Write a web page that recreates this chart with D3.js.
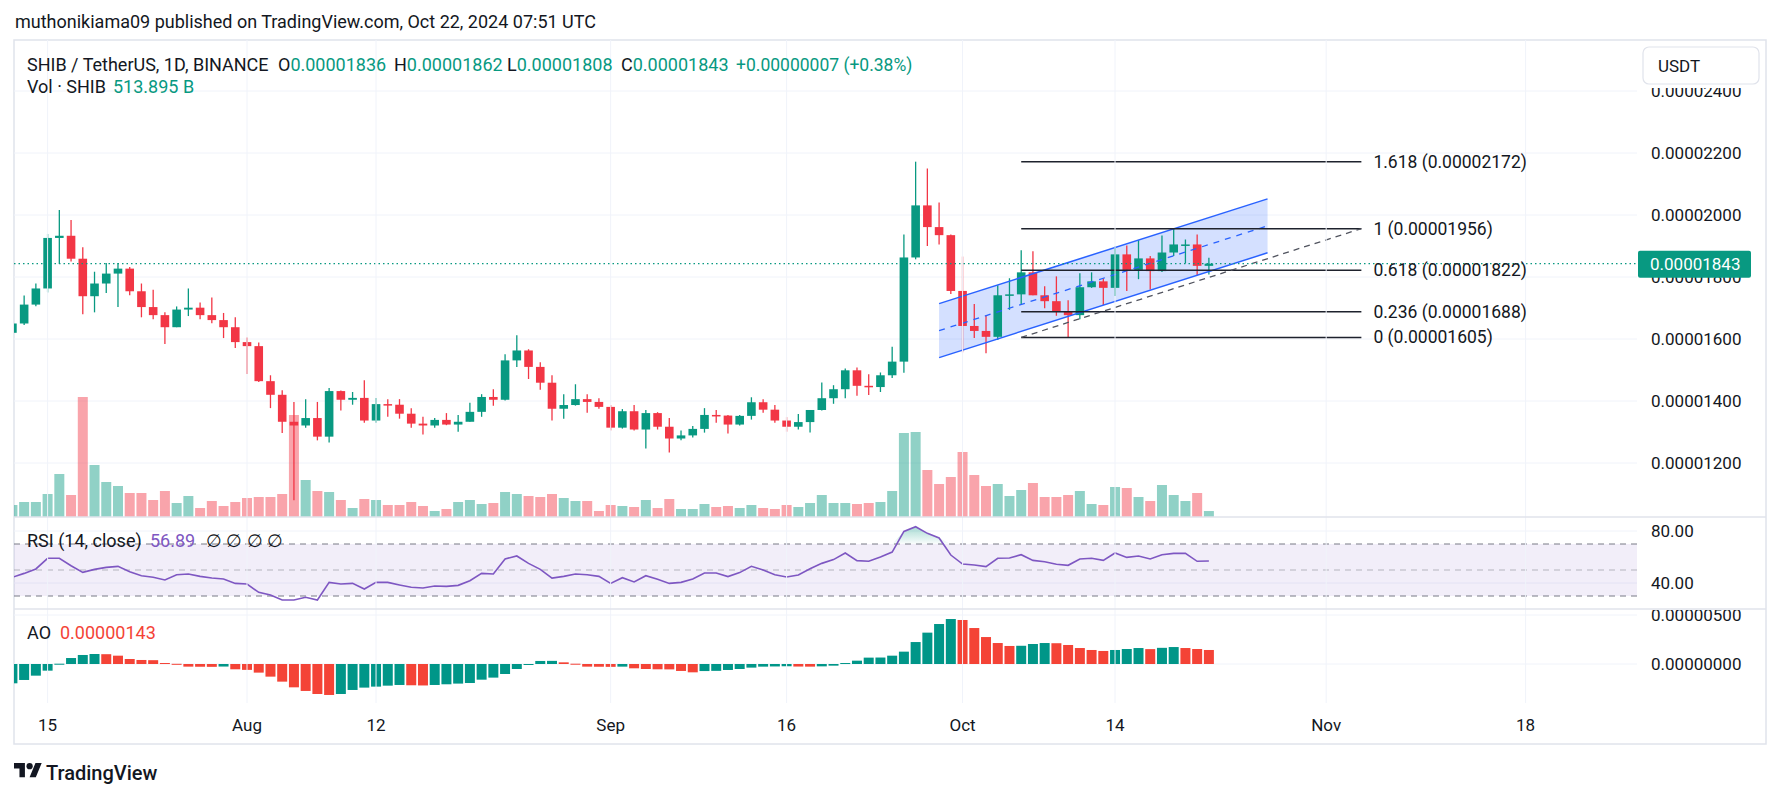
<!DOCTYPE html>
<html>
<head>
<meta charset="utf-8">
<script src="https://cdn.jsdelivr.net/npm/d3@7"></script>
<style>
  body { margin: 0; background: #fff; }
  svg text { font-family: Roboto, "Noto Sans", sans-serif; fill: #131722; }
</style>
</head>
<body>
<div id="viz"></div>
<script>
// prices are in units of 0.00000001 (1e-8)
var startDate = new Date(Date.UTC(2024, 6, 12));

var opens  = [1620,1650,1711,1763,1926,1933,1859,1738,1779,1811,1827,1754,1703,1677,1638,1695,1701,1677,1661,1638,
              1590,1577,1464,1420,1333,1321,1345,1285,1432,1404,1410,1337,1390,1388,1359,1327,1321,1339,1324,1333,
              1365,1413,1404,1531,1563,1510,1459,1375,1387,1406,1397,1381,1314,1367,1308,1361,1317,1279,1289,1310,
              1355,1353,1324,1352,1396,1372,1337,1317,1332,1371,1409,1438,1499,1449,1445,1483,1527,1863,2031,1961,
              1935,1755,1642,1626,1607,1741,1744,1815,1741,1722,1690,1677,1767,1786,1765,1873,1823,1860,1819,1879,
              1903,1905,1836];
var highs  = [1655,1740,1779,1939,2016,1984,1896,1817,1845,1845,1832,1779,1759,1686,1705,1763,1718,1734,1684,1670,
              1605,1589,1483,1435,1397,1406,1397,1442,1434,1429,1467,1410,1406,1406,1377,1349,1345,1361,1355,1394,
              1422,1438,1551,1612,1567,1525,1483,1422,1454,1422,1409,1387,1374,1387,1371,1364,1345,1305,1319,1377,
              1371,1355,1355,1412,1406,1387,1348,1358,1371,1460,1451,1505,1508,1486,1492,1575,1937,2172,2150,2040,
              1937,1866,1713,1677,1773,1796,1886,1883,1770,1802,1725,1812,1815,1795,1898,1902,1919,1868,1934,1956,
              1921,1937,1862];
var lows   = [1610,1645,1706,1750,1842,1850,1680,1686,1748,1703,1741,1670,1664,1584,1638,1674,1664,1651,1603,1571,
              1487,1461,1377,1297,1080,1314,1273,1266,1369,1388,1330,1330,1349,1343,1314,1292,1314,1322,1301,1333,
              1349,1385,1402,1510,1471,1436,1337,1343,1385,1362,1375,1305,1311,1305,1247,1308,1234,1273,1282,1298,
              1330,1295,1321,1340,1362,1330,1301,1308,1298,1369,1391,1409,1417,1419,1429,1474,1491,1857,1900,1905,
              1745,1557,1603,1554,1597,1694,1712,1741,1699,1675,1605,1664,1765,1710,1739,1755,1793,1760,1816,1868,
              1844,1806,1808];
var closes = [1650,1711,1763,1926,1933,1859,1738,1779,1811,1827,1754,1703,1677,1638,1695,1701,1677,1661,1638,1590,
              1577,1464,1420,1333,1321,1345,1285,1432,1404,1410,1337,1390,1388,1359,1327,1321,1339,1324,1333,1365,
              1413,1404,1531,1563,1510,1459,1375,1387,1406,1397,1381,1314,1367,1308,1361,1317,1279,1289,1310,1355,
              1353,1324,1352,1396,1372,1337,1317,1332,1371,1409,1438,1499,1449,1445,1483,1527,1863,2031,1961,1935,
              1755,1642,1626,1607,1741,1744,1815,1741,1722,1690,1677,1767,1786,1765,1873,1823,1860,1819,1879,1905,
              1905,1836,1843];
// volume in billions of SHIB
var volumes = [1032,1290,1290,1978,3698,1892,10320,4472,3010,2666,2064,2064,1462,2236,1204,1806,774,1376,946,1290,
               1634,1720,1720,1978,8772,3182,2236,2150,1462,774,1548,1462,1032,1032,1290,946,516,688,1290,1462,
               1118,1204,2150,1978,1806,1720,1978,1634,1376,1376,516,1032,946,860,1462,774,1548,688,688,1118,
               860,946,774,1032,774,688,1032,860,1204,1892,1204,1204,1118,1204,1290,2236,7224,7310,4042,2838,
               3440,5590,3612,2666,2838,1806,2322,2924,1720,1720,1892,2236,1118,1032,2580,2494,1720,1376,2752,1892,
               1376,2064,513.895];
var rsi = [44.4,47.4,50.8,59.0,59.0,53.3,48.2,50.5,52.0,52.8,48.7,45.6,44.4,42.3,46.4,46.9,45.1,43.8,43.1,39.7,
           39.2,32.8,30.8,26.9,26.9,29.0,26.9,40.5,39.2,39.7,35.4,40.5,40.5,38.5,36.7,36.2,37.7,37.4,38.2,41.8,
           47.4,46.9,58.5,60.8,55.1,50.5,43.8,45.1,46.9,46.4,45.1,39.7,44.1,40.8,45.6,42.8,39.7,40.5,43.1,47.7,
           47.7,44.9,48.0,52.8,50.0,46.4,44.6,46.2,51.0,55.1,58.0,63.1,57.2,56.7,60.0,63.8,79.7,83.3,78.2,74.6,
           61.5,54.6,53.8,52.6,59.0,59.2,61.8,57.4,56.4,54.4,53.6,58.5,59.0,57.4,63.1,59.7,60.8,58.5,61.8,62.8,
           62.8,56.7,56.89];
// awesome oscillator, units of 1e-8
var ao = [-197,-163,-119,-68,3,61,92,102,100,85,51,41,39,10,2,-27,-28,-29,-26,-54,
          -60,-88,-129,-180,-238,-275,-306,-316,-306,-265,-241,-231,-221,-214,-217,-219,-214,-207,-200,-194,
          -160,-139,-102,-51,-7,31,32,17,3,-27,-28,-29,-27,-44,-51,-54,-55,-71,-85,-72,
          -70,-61,-51,-37,-27,-25,-23,-26,-27,-24,-17,10,34,65,66,85,126,224,320,408,
          459,449,367,275,214,184,186,204,214,212,194,163,143,133,143,153,163,152,165,173,
          163,153,143];

var timeTickDates  = ["2024-07-15","2024-08-01","2024-08-12","2024-09-01","2024-09-16","2024-10-01","2024-10-14","2024-11-01","2024-11-18"];
var timeTickLabels = ["15","Aug","12","Sep","16","Oct","14","Nov","18"];
var priceTicks = [1200,1400,1600,1800,2000,2200,2400];
var rsiTicks = [40, 80];
var rsiLevels = [70, 50, 30];
var aoTicks = [0, 500];

var channelDates = ["2024-09-29","2024-10-27"];
var channelUpper = [1714, 2052];
var channelMid   = [1627, 1965];
var channelLower = [1540, 1878];

var fibDates  = ["2024-10-06","2024-11-04"];
var fibRatios = ["1.618","1","0.618","0.236","0"];
var fibValues = [2172, 1956, 1822, 1688, 1605];

var lastPrice = 1843;

// ---------------------------------------------------------------
var width = 1781, height = 798;
var plotL = 14, plotR = 1637, axisR = 1766;
var top0 = 40, mainBot = 517, rsiBot = 609, aoBot = 703, frameBot = 744;
var up = "#089981", down = "#F23645";
var grid = "#f0f3fa", border = "#e0e3eb";
var fs = "18px", fsAxis = "17px";
var parse = d3.utcParse("%Y-%m-%d");
var fmt8 = function(v) { return (v / 1e8).toFixed(8); };

var dates = closes.map(function(d, i) { return d3.utcDay.offset(startDate, i); });

var x = d3.scaleUtc()
    .domain([parse("2024-07-15"), parse("2024-11-18")])
    .range([47.6, 1525.6]);
var y = d3.scaleLinear().domain([1200, 2200]).range([463, 153]);
var yVol = d3.scaleLinear().domain([0, d3.max(volumes)]).range([mainBot, mainBot - 120]);
var yRsi = d3.scaleLinear().domain([40, 80]).range([583, 531]);
var yAo = d3.scaleLinear().domain([0, 500]).range([664, 615]);

var svg = d3.select("#viz").append("svg")
    .attr("width", width)
    .attr("height", height);

var defs = svg.append("defs");
function clip(id, y0, y1) {
  defs.append("clipPath").attr("id", id).append("rect")
      .attr("x", plotL).attr("y", y0).attr("width", plotR - plotL).attr("height", y1 - y0);
}
clip("cMain", top0, mainBot);
clip("cRsi", mainBot, rsiBot);
clip("cAo", rsiBot, aoBot);
defs.append("clipPath").attr("id", "cAxis").append("rect")
    .attr("x", plotR).attr("y", 88).attr("width", axisR - plotR).attr("height", mainBot - 88);
defs.append("clipPath").attr("id", "cAoAxis").append("rect")
    .attr("x", plotR).attr("y", rsiBot + 1).attr("width", axisR - plotR).attr("height", aoBot - rsiBot);

var grad = defs.append("linearGradient").attr("id", "obGrad")
    .attr("x1", 0).attr("x2", 0).attr("y1", 0).attr("y2", 1);
grad.append("stop").attr("offset", "0%").attr("stop-color", "rgba(8,153,129,0.35)");
grad.append("stop").attr("offset", "100%").attr("stop-color", "rgba(8,153,129,0.02)");

svg.append("rect").attr("width", width).attr("height", height).attr("fill", "#fff");

// header
svg.append("text").attr("x", 15).attr("y", 28).style("font-size", fs)
    .text("muthonikiama09 published on TradingView.com, Oct 22, 2024 07:51 UTC");

// frame
svg.append("rect").attr("x", plotL).attr("y", top0)
    .attr("width", axisR - plotL).attr("height", frameBot - top0)
    .attr("fill", "none").attr("stroke", border).attr("stroke-width", 1.5);

// horizontal gridlines
var gMain = svg.append("g").attr("clip-path", "url(#cMain)");
gMain.selectAll(".hg").data(priceTicks).enter().append("line")
    .attr("x1", plotL).attr("x2", plotR)
    .attr("y1", function(d) { return y(d); }).attr("y2", function(d) { return y(d); })
    .attr("stroke", grid);
var gRsi = svg.append("g").attr("clip-path", "url(#cRsi)");
gRsi.selectAll(".hg").data(rsiTicks).enter().append("line")
    .attr("x1", plotL).attr("x2", plotR)
    .attr("y1", function(d) { return yRsi(d); }).attr("y2", function(d) { return yRsi(d); })
    .attr("stroke", grid);
var gAo = svg.append("g").attr("clip-path", "url(#cAo)");
gAo.selectAll(".hg").data(aoTicks).enter().append("line")
    .attr("x1", plotL).attr("x2", plotR)
    .attr("y1", function(d) { return yAo(d); }).attr("y2", function(d) { return yAo(d); })
    .attr("stroke", grid);

// vertical gridlines
svg.append("g").selectAll("line").data(timeTickDates).enter().append("line")
    .attr("x1", function(d) { return x(parse(d)); }).attr("x2", function(d) { return x(parse(d)); })
    .attr("y1", top0).attr("y2", aoBot)
    .attr("stroke", grid);

// pane separators
[mainBot, rsiBot].forEach(function(v) {
  svg.append("line").attr("x1", plotL).attr("x2", axisR).attr("y1", v).attr("y2", v)
      .attr("stroke", border).attr("stroke-width", 1.5);
});

// volume
gMain.selectAll(".vol").data(volumes).enter().append("rect")
    .attr("x", function(d, i) { return x(dates[i]) - 5; })
    .attr("width", 10)
    .attr("y", function(d) { return yVol(d); })
    .attr("height", function(d) { return mainBot - yVol(d); })
    .attr("fill", function(d, i) { return closes[i] >= opens[i] ? "rgba(8,153,129,0.45)" : "rgba(242,54,69,0.45)"; });

// channel fill
var chPts = channelDates.map(function(d, i) { return [x(parse(d)), y(channelUpper[i]), y(channelLower[i])]; });
gMain.append("path")
    .attr("d", "M" + chPts[0][0] + "," + chPts[0][1] + "L" + chPts[1][0] + "," + chPts[1][1] +
               "L" + chPts[1][0] + "," + chPts[1][2] + "L" + chPts[0][0] + "," + chPts[0][2] + "Z")
    .attr("fill", "rgba(41,98,255,0.2)");

// candles
var candles = gMain.selectAll(".c").data(closes).enter().append("g");
candles.append("line")
    .attr("x1", function(d, i) { return x(dates[i]); }).attr("x2", function(d, i) { return x(dates[i]); })
    .attr("y1", function(d, i) { return y(highs[i]); }).attr("y2", function(d, i) { return y(lows[i]); })
    .attr("stroke", function(d, i) { return d >= opens[i] ? up : down; })
    .attr("stroke-width", 1.3);
candles.append("rect")
    .attr("x", function(d, i) { return x(dates[i]) - 4.3; })
    .attr("width", 8.6)
    .attr("y", function(d, i) { return y(Math.max(d, opens[i])); })
    .attr("height", function(d, i) { return Math.max(1.5, Math.abs(y(d) - y(opens[i]))); })
    .attr("fill", function(d, i) { return d >= opens[i] ? up : down; });

// channel lines
function seg(vals, dash, w) {
  gMain.append("line")
      .attr("x1", x(parse(channelDates[0]))).attr("x2", x(parse(channelDates[1])))
      .attr("y1", y(vals[0])).attr("y2", y(vals[1]))
      .attr("stroke", "#2962FF").attr("stroke-width", w)
      .attr("stroke-dasharray", dash);
}
seg(channelUpper, null, 1.5);
seg(channelLower, null, 1.5);
seg(channelMid, "6,6", 1.3);

// fib retracement
var fx0 = x(parse(fibDates[0])), fx1 = x(parse(fibDates[1]));
gMain.selectAll(".fib").data(fibValues).enter().append("line")
    .attr("x1", fx0).attr("x2", fx1)
    .attr("y1", function(d) { return y(d); }).attr("y2", function(d) { return y(d); })
    .attr("stroke", "#1e222d").attr("stroke-width", 1.5);
gMain.append("line")
    .attr("x1", fx0).attr("x2", fx1)
    .attr("y1", y(fibValues[4])).attr("y2", y(fibValues[1]))
    .attr("stroke", "#50535e").attr("stroke-width", 1.3).attr("stroke-dasharray", "6,5");
svg.selectAll(".fibt").data(fibValues).enter().append("text")
    .attr("x", fx1 + 12).attr("y", function(d) { return y(d) + 6; })
    .style("font-size", "17.5px")
    .text(function(d, i) { return fibRatios[i] + " (" + fmt8(d) + ")"; });

// last price line
gMain.append("line").attr("x1", plotL).attr("x2", plotR)
    .attr("y1", y(lastPrice)).attr("y2", y(lastPrice))
    .attr("stroke", up).attr("stroke-width", 1.2).attr("stroke-dasharray", "1.5,3");

// price axis labels
svg.append("g").attr("clip-path", "url(#cAxis)")
  .selectAll("text").data(priceTicks).enter().append("text")
    .attr("x", 1651).attr("y", function(d) { return y(d) + 6; })
    .style("font-size", fsAxis)
    .text(fmt8);
svg.append("rect").attr("x", 1643).attr("y", 47).attr("width", 116).attr("height", 37).attr("rx", 6)
    .attr("fill", "#fff").attr("stroke", border).attr("stroke-width", 1.2);
svg.append("text").attr("x", 1658).attr("y", 72).style("font-size", fsAxis).text("USDT");
svg.append("rect").attr("x", 1638).attr("y", y(lastPrice) - 13).attr("width", 113).attr("height", 27)
    .attr("rx", 2).attr("fill", up);
svg.append("text").attr("x", 1650).attr("y", y(lastPrice) + 6).style("font-size", fsAxis)
    .style("fill", "#fff").text(fmt8(lastPrice));

// RSI pane
gRsi.append("rect").attr("x", plotL).attr("width", plotR - plotL)
    .attr("y", yRsi(70)).attr("height", yRsi(30) - yRsi(70))
    .attr("fill", "rgba(126,87,194,0.1)");
gRsi.selectAll(".lvl").data(rsiLevels).enter().append("line")
    .attr("x1", plotL).attr("x2", plotR)
    .attr("y1", function(d) { return yRsi(d); }).attr("y2", function(d) { return yRsi(d); })
    .attr("stroke", function(d) { return d === 50 ? "rgba(120,123,134,0.5)" : "#787B86"; })
    .attr("stroke-dasharray", "6,5");
gRsi.append("path").datum(rsi)
    .attr("d", d3.area()
        .x(function(d, i) { return x(dates[i]); })
        .y0(yRsi(70))
        .y1(function(d) { return yRsi(Math.max(d, 70)); }))
    .attr("fill", "url(#obGrad)");
gRsi.append("path").datum(rsi)
    .attr("d", d3.line().x(function(d, i) { return x(dates[i]); }).y(function(d) { return yRsi(d); }))
    .attr("fill", "none").attr("stroke", "#7E57C2").attr("stroke-width", 1.6);
svg.selectAll(".rt").data(rsiTicks).enter().append("text")
    .attr("x", 1651).attr("y", function(d) { return yRsi(d) + 6; })
    .style("font-size", fsAxis).text(function(d) { return d.toFixed(2); });

// AO pane
gAo.selectAll(".ao").data(ao).enter().append("rect")
    .attr("x", function(d, i) { return x(dates[i]) - 5; })
    .attr("width", 10)
    .attr("y", function(d) { return yAo(Math.max(d, 0)); })
    .attr("height", function(d) { return Math.max(1, Math.abs(yAo(d) - yAo(0))); })
    .attr("fill", function(d, i) { return (i === 0 || d >= ao[i - 1]) ? "#009688" : "#F44336"; });
svg.append("g").attr("clip-path", "url(#cAoAxis)")
  .selectAll("text").data(aoTicks).enter().append("text")
    .attr("x", 1651).attr("y", function(d) { return yAo(d) + 6; })
    .style("font-size", fsAxis).text(fmt8);

// time axis
svg.selectAll(".tl").data(timeTickDates).enter().append("text")
    .attr("x", function(d) { return x(parse(d)); }).attr("y", 731)
    .attr("text-anchor", "middle").style("font-size", fsAxis)
    .text(function(d, i) { return timeTickLabels[i]; });

// legends
var last = closes.length - 1;
var lg = svg.append("text").attr("y", 71).style("font-size", fs);
lg.append("tspan").attr("x", 27).text("SHIB / TetherUS, 1D, BINANCE");
[["O", opens[last], 278], ["H", highs[last], 394], ["L", lows[last], 507], ["C", closes[last], 621]].forEach(function(p) {
  lg.append("tspan").attr("x", p[2]).text(p[0]);
  lg.append("tspan").style("fill", up).text(fmt8(p[1]));
});
lg.append("tspan").attr("x", 736).style("fill", up).style("font-size", "17.5px")
    .text("+" + fmt8(closes[last] - closes[last - 1]) + " (+" +
          ((closes[last] - closes[last - 1]) / closes[last - 1] * 100).toFixed(2) + "%)");
var vl = svg.append("text").attr("x", 27).attr("y", 93).style("font-size", fs);
vl.append("tspan").text("Vol · SHIB");
vl.append("tspan").attr("x", 113).style("fill", up).text(volumes[last].toFixed(3) + " B");

var rl = svg.append("text").attr("x", 27).attr("y", 547).style("font-size", fs);
rl.append("tspan").text("RSI (14, close)");
rl.append("tspan").attr("x", 150).style("fill", "#7E57C2").text(rsi[last].toFixed(2));
rl.append("tspan").attr("x", 206).text("\u2205  \u2205  \u2205  \u2205");

var al = svg.append("text").attr("x", 27).attr("y", 639).style("font-size", fs);
al.append("tspan").text("AO");
al.append("tspan").attr("x", 60).style("fill", "#F44336").text(fmt8(ao[last]));

// TradingView logo
var logo = svg.append("g").attr("transform", "translate(14,760) scale(0.78)");
logo.append("path").attr("d", "M14 22H7V11H0V4h14v18zM28 22h-8l7.5-18h8L28 22z").attr("fill", "#131722");
logo.append("circle").attr("cx", 20).attr("cy", 8).attr("r", 4).attr("fill", "#131722");
svg.append("text").attr("x", 46).attr("y", 780).style("font-size", "20px").style("font-weight", 500)
    .text("TradingView");
</script>
</body>
</html>
